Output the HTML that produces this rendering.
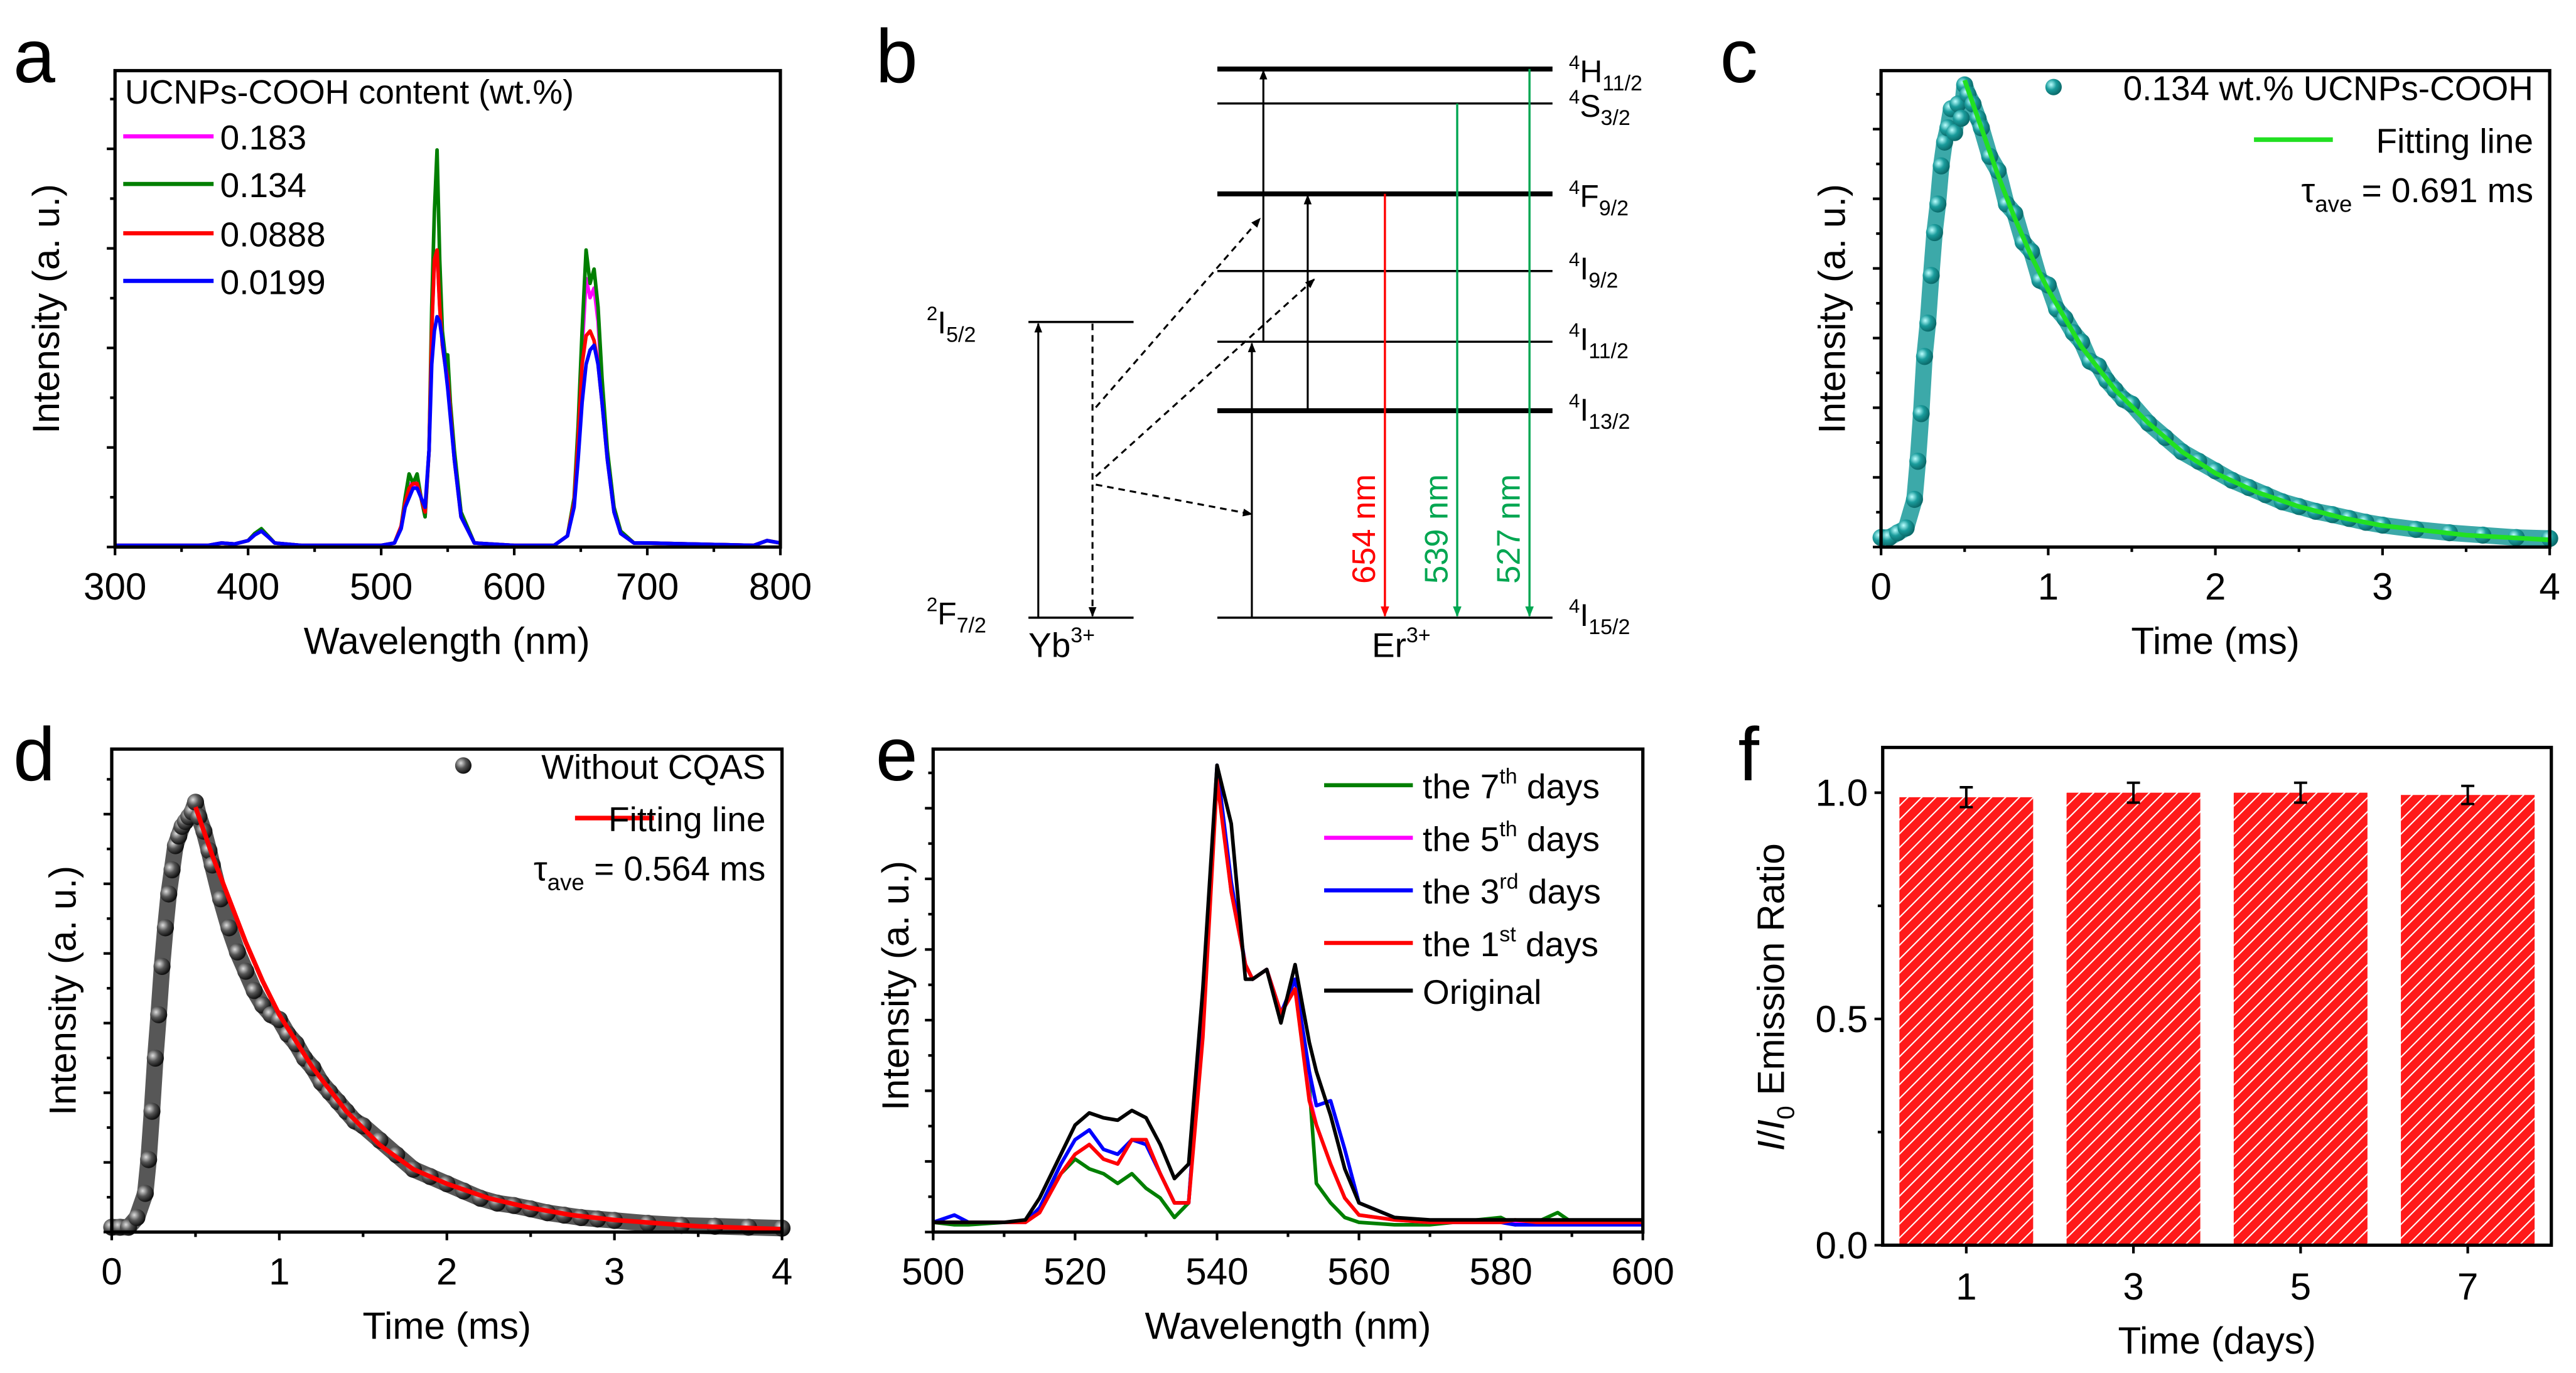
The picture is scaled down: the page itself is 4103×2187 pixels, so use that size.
<!DOCTYPE html>
<html><head><meta charset="utf-8"><style>
html,body{margin:0;padding:0;background:#fff;}
svg{display:block;font-family:"Liberation Sans",Arial,sans-serif;}
</style></head><body>
<svg id="fig" xmlns="http://www.w3.org/2000/svg" width="4103" height="2187" viewBox="0 0 1568 835.8">
<defs>
<pattern id="hatch" patternUnits="userSpaceOnUse" width="6" height="6" patternTransform="rotate(45)">
<rect width="6" height="6" fill="#ff1a1a"/><line x1="0" y1="0" x2="0" y2="6" stroke="#fff" stroke-width="1.6"/>
</pattern>
<marker id="ah" viewBox="0 0 10 10" refX="9" refY="5" markerWidth="5" markerHeight="5" orient="auto"><path d="M0,1 L10,5 L0,9 z" fill="#000"/></marker>
<marker id="ahr" viewBox="0 0 10 10" refX="9" refY="5" markerWidth="5" markerHeight="5" orient="auto"><path d="M0,1 L10,5 L0,9 z" fill="#f00"/></marker>
<marker id="ahg" viewBox="0 0 10 10" refX="9" refY="5" markerWidth="5" markerHeight="5" orient="auto"><path d="M0,1 L10,5 L0,9 z" fill="#00a651"/></marker>
<radialGradient id="ballT" cx="35%" cy="35%" r="65%"><stop offset="0" stop-color="#bff"/><stop offset="0.5" stop-color="#1a9c9c"/><stop offset="1" stop-color="#0b6b6b"/></radialGradient>
<radialGradient id="ballK" cx="35%" cy="35%" r="65%"><stop offset="0" stop-color="#ddd"/><stop offset="0.5" stop-color="#555"/><stop offset="1" stop-color="#111"/></radialGradient>
</defs>

<g stroke="#000" fill="none">
<text x="533" y="50" font-size="46" fill="#000" stroke="none">b</text>
<line x1="741" y1="42" x2="945" y2="42" stroke-width="3"/>
<line x1="741" y1="63" x2="945" y2="63" stroke-width="1.3"/>
<line x1="741" y1="118" x2="945" y2="118" stroke-width="3"/>
<line x1="741" y1="165" x2="945" y2="165" stroke-width="1.3"/>
<line x1="741" y1="208" x2="945" y2="208" stroke-width="1.3"/>
<line x1="741" y1="250" x2="945" y2="250" stroke-width="3"/>
<line x1="741" y1="376" x2="945" y2="376" stroke-width="1.3"/>
<line x1="626" y1="196" x2="690" y2="196" stroke-width="1.3"/>
<line x1="626" y1="376" x2="690" y2="376" stroke-width="1.3"/>
<line x1="632" y1="376" x2="632" y2="197" stroke-width="1.2" marker-end="url(#ah)"/>
<line x1="665" y1="197" x2="665" y2="375" stroke-width="1.2" stroke-dasharray="4,3" marker-end="url(#ah)"/>
<line x1="667" y1="248" x2="767" y2="133" stroke-width="1.2" stroke-dasharray="4,3" marker-end="url(#ah)"/>
<line x1="667" y1="290" x2="800" y2="170" stroke-width="1.2" stroke-dasharray="4,3" marker-end="url(#ah)"/>
<line x1="667" y1="295" x2="762" y2="313" stroke-width="1.2" stroke-dasharray="4,3" marker-end="url(#ah)"/>
<line x1="762" y1="376" x2="762" y2="209" stroke-width="1.2" marker-end="url(#ah)"/>
<line x1="769" y1="208" x2="769" y2="43" stroke-width="1.2" marker-end="url(#ah)"/>
<line x1="796" y1="250" x2="796" y2="119" stroke-width="1.2" marker-end="url(#ah)"/>
<line x1="843" y1="118" x2="843" y2="375" stroke="#f00" stroke-width="1.3" marker-end="url(#ahr)"/>
<line x1="887" y1="63" x2="887" y2="375" stroke="#00a651" stroke-width="1.3" marker-end="url(#ahg)"/>
<line x1="931" y1="42" x2="931" y2="375" stroke="#00a651" stroke-width="1.3" marker-end="url(#ahg)"/>
<g stroke="none" font-size="20">
<text transform="translate(837,322) rotate(-90)" text-anchor="middle" fill="#f00">654 nm</text>
<text transform="translate(881,322) rotate(-90)" text-anchor="middle" fill="#00a651">539 nm</text>
<text transform="translate(925,322) rotate(-90)" text-anchor="middle" fill="#00a651">527 nm</text>
<g fill="#000" font-size="19">
<text x="955" y="50"><tspan font-size="12" dy="-8">4</tspan><tspan dy="8">H</tspan><tspan font-size="13" dy="5">11/2</tspan></text>
<text x="955" y="71"><tspan font-size="12" dy="-8">4</tspan><tspan dy="8">S</tspan><tspan font-size="13" dy="5">3/2</tspan></text>
<text x="955" y="126"><tspan font-size="12" dy="-8">4</tspan><tspan dy="8">F</tspan><tspan font-size="13" dy="5">9/2</tspan></text>
<text x="955" y="170"><tspan font-size="12" dy="-8">4</tspan><tspan dy="8">I</tspan><tspan font-size="13" dy="5">9/2</tspan></text>
<text x="955" y="213"><tspan font-size="12" dy="-8">4</tspan><tspan dy="8">I</tspan><tspan font-size="13" dy="5">11/2</tspan></text>
<text x="955" y="256"><tspan font-size="12" dy="-8">4</tspan><tspan dy="8">I</tspan><tspan font-size="13" dy="5">13/2</tspan></text>
<text x="955" y="381"><tspan font-size="12" dy="-8">4</tspan><tspan dy="8">I</tspan><tspan font-size="13" dy="5">15/2</tspan></text>
<text x="564" y="203"><tspan font-size="12" dy="-8">2</tspan><tspan dy="8">I</tspan><tspan font-size="13" dy="5">5/2</tspan></text>
<text x="564" y="380"><tspan font-size="12" dy="-8">2</tspan><tspan dy="8">F</tspan><tspan font-size="13" dy="5">7/2</tspan></text>
<text x="626" y="400" font-size="21">Yb<tspan font-size="13" dy="-9">3+</tspan></text>
<text x="835" y="400" font-size="21">Er<tspan font-size="13" dy="-9">3+</tspan></text>
</g></g></g>
</svg>
<script>
// ---------- DATA ----------
const aWavelengths=[300,370,380,390,400,405,410,415,420,440,500,510,515,518,521,524,527,530,533,536,538,540,542,544,546,548,550,552,555,560,570,600,630,640,645,648,651,654,657,660,663,666,670,675,680,690,700,780,790,800];
const aSeriesNames=["0.183","0.134","0.0888","0.0199"];
const aVal0183=[0,0,0.005,0.003,0.01,0.025,0.033,0.02,0.005,0,0,0.005,0.04,0.09,0.13,0.12,0.14,0.1,0.06,0.2,0.45,0.6,0.62,0.5,0.42,0.38,0.36,0.28,0.18,0.07,0.005,0,0,0.02,0.09,0.23,0.41,0.56,0.52,0.54,0.47,0.33,0.19,0.08,0.03,0.005,0.005,0,0.01,0.005];
const aVal0134=[0,0,0.005,0.003,0.01,0.025,0.035,0.02,0.005,0,0,0.005,0.04,0.1,0.15,0.13,0.15,0.1,0.06,0.2,0.5,0.7,0.83,0.6,0.45,0.4,0.4,0.3,0.2,0.07,0.005,0,0,0.02,0.1,0.25,0.45,0.62,0.55,0.58,0.5,0.35,0.2,0.08,0.03,0.005,0.005,0,0.01,0.005];
const aVal0888=[0,0,0.005,0.003,0.01,0.022,0.03,0.018,0.005,0,0,0.005,0.04,0.09,0.12,0.13,0.13,0.1,0.07,0.2,0.45,0.6,0.62,0.5,0.42,0.38,0.35,0.28,0.18,0.06,0.005,0,0,0.02,0.09,0.22,0.38,0.44,0.45,0.43,0.38,0.3,0.18,0.07,0.025,0.005,0.005,0,0.01,0.005];
const aVal0199=[0,0,0.005,0.003,0.01,0.022,0.03,0.018,0.005,0,0,0.005,0.035,0.08,0.1,0.12,0.12,0.1,0.08,0.2,0.38,0.45,0.48,0.47,0.43,0.38,0.33,0.27,0.18,0.06,0.005,0,0,0.02,0.08,0.18,0.3,0.38,0.41,0.42,0.38,0.3,0.18,0.07,0.025,0.005,0.005,0,0.01,0.005];
const aXTicks=[300,400,500,600,700,800];

const cTimes=[0,0.05,0.1,0.15,0.2,0.22,0.24,0.26,0.28,0.3,0.32,0.34,0.36,0.38,0.4,0.42,0.44,0.46,0.48,0.5,0.52,0.55,0.58,0.6,0.65,0.7,0.75,0.8,0.85,0.9,0.95,1.0,1.05,1.1,1.15,1.2,1.25,1.3,1.35,1.4,1.45,1.5,1.6,1.7,1.8,1.9,2.0,2.1,2.2,2.3,2.4,2.5,2.6,2.7,2.8,2.9,3.0,3.2,3.4,3.6,3.8,4.0];
const cDecay=[0.02,0.02,0.03,0.04,0.1,0.18,0.28,0.4,0.47,0.57,0.66,0.72,0.8,0.85,0.88,0.92,0.87,0.93,0.9,0.97,0.95,0.93,0.9,0.88,0.82,0.79,0.72,0.7,0.64,0.62,0.56,0.55,0.5,0.48,0.45,0.43,0.39,0.38,0.35,0.33,0.31,0.3,0.26,0.23,0.2,0.18,0.16,0.14,0.125,0.11,0.095,0.085,0.075,0.068,0.06,0.052,0.046,0.037,0.03,0.025,0.02,0.018];
const dDecay=[0.01,0.01,0.01,0.03,0.08,0.15,0.25,0.36,0.45,0.55,0.63,0.7,0.75,0.8,0.82,0.84,0.85,0.86,0.87,0.89,0.86,0.83,0.79,0.76,0.69,0.63,0.58,0.54,0.5,0.47,0.45,0.44,0.41,0.39,0.36,0.34,0.31,0.29,0.27,0.25,0.23,0.22,0.19,0.16,0.13,0.115,0.1,0.085,0.07,0.06,0.055,0.048,0.04,0.035,0.03,0.027,0.024,0.018,0.014,0.012,0.01,0.008];
const fitTimes=[0.5,0.6,0.7,0.8,0.9,1.0,1.2,1.4,1.6,1.8,2.0,2.25,2.5,2.75,3.0,3.5,4.0];
const cFit=[0.98,0.88,0.78,0.69,0.61,0.54,0.42,0.33,0.26,0.2,0.155,0.115,0.085,0.062,0.045,0.025,0.015];
const dFit=[0.88,0.78,0.69,0.6,0.52,0.45,0.34,0.25,0.18,0.13,0.1,0.07,0.05,0.035,0.025,0.012,0.006];
const timeTicks=[0,1,2,3,4];

const eWavelengths=[500,503,505,510,513,515,518,520,522,524,526,528,530,532,534,536,538,540,542,544,545,547,549,551,553,554,556,558,560,565,570,580,582,585,588,590,600];
const eOriginal=[.02,.02,.02,.02,.025,.07,.16,.22,.245,.235,.23,.25,.235,.18,.11,.14,.5,.96,.84,.52,.52,.54,.43,.55,.39,.33,.24,.13,.06,.03,.025,.025,.025,.025,.025,.025,.025];
const eDay1=[.02,.02,.02,.02,.02,.04,.12,.16,.18,.15,.14,.19,.19,.12,.06,.06,.4,.93,.7,.55,.52,.54,.45,.5,.27,.22,.14,.07,.035,.025,.02,.02,.025,.02,.02,.02,.02];
const eDay3=[.02,.035,.02,.02,.02,.05,.14,.19,.21,.17,.16,.19,.18,.12,.06,.06,.45,.96,.72,.55,.52,.54,.45,.52,.33,.26,.27,.17,.06,.03,.02,.02,.015,.015,.015,.015,.015];
const eDay5=[.02,.02,.02,.02,.02,.04,.12,.16,.18,.15,.14,.19,.19,.12,.06,.06,.42,.94,.7,.55,.52,.54,.45,.5,.28,.22,.14,.07,.035,.025,.02,.02,.02,.02,.02,.02,.02];
const eDay7=[.02,.015,.015,.02,.02,.05,.12,.15,.13,.12,.1,.12,.09,.07,.03,.06,.45,.95,.7,.55,.52,.54,.45,.5,.3,.1,.06,.03,.02,.015,.015,.03,.015,.02,.04,.02,.02];
const eXTicks=[500,520,540,560,580,600];

const fDays=["1","3","5","7"];
const fRatio=[0.99,1.0,1.0,0.995];
const fErr=[0.022,0.022,0.022,0.02];
const fYTicks=[0.0,0.5,1.0];

// ---------- HELPERS ----------
const NS="http://www.w3.org/2000/svg";
const svg=document.getElementById('fig');
function mk(tag,attrs,parent){const e=document.createElementNS(NS,tag);for(const k in attrs)e.setAttribute(k,attrs[k]);(parent||svg).appendChild(e);return e;}
function txt(s,x,y,size,anchor,parent,extra){const t=mk('text',Object.assign({x:x,y:y,'font-size':size,'text-anchor':anchor||'start',fill:'#000'},extra||{}),parent);t.textContent=s;return t;}
function lin(d0,d1,r0,r1){return v=>r0+(v-d0)/(d1-d0)*(r1-r0);}
function frame(g,x0,y0,x1,y1){const r=mk('rect',{x:x0,y:y0,width:x1-x0,height:y1-y0,fill:'none',stroke:'#000','stroke-width':2},g);return r;}
function path(xs,ys,X,Y){return xs.map((v,i)=>(i?'L':'M')+X(v).toFixed(2)+','+Y(ys[i]).toFixed(2)).join(' ');}

// ---------- PANEL A ----------
(function(){
const g=mk('g',{});


const x0=70,x1=475,y0=43,y1=333;
const X=lin(300,800,x0,x1), Y=v=>332-v*290;
const lab=txt('a',8,50,46,'start',g);


const colors=['#ff00ff','#007f00','#ff0000','#0000ff'];
const vals=[aVal0183,aVal0134,aVal0888,aVal0199];
const order=[0,1,2,3];
order.forEach(i=>{const p=mk('path',{d:path(aWavelengths,vals[i],X,Y),fill:'none',stroke:colors[i],'stroke-width':2.2,'stroke-linejoin':'round'},g);

});
const fr=frame(g,x0,y0,x1,y1);


for(let v=300;v<=800;v+=50){const major=v%100===0;const t=mk('line',{x1:X(v),x2:X(v),y1:y1,y2:y1+(major?5:3),stroke:'#000','stroke-width':1.6},g);

}
aXTicks.forEach(v=>{const t=txt(String(v),X(v),365,23,'middle',g);

});
for(let k=0;k<=9;k++){const yy=y1-k*30.3;const t=mk('line',{x1:x0-(k%2?3:5),x2:x0,y1:yy,y2:yy,stroke:'#000','stroke-width':1.6},g);

}
const xt=txt('Wavelength (nm)',272,398,23,'middle',g);


const yt=txt('Intensity (a. u.)',0,0,23,'middle',g,{transform:'translate(36,188) rotate(-90)'});


const lt=txt('UCNPs-COOH content (wt.%)',76,63,20.5,'start',g);


const ly=[83,112,142,171];
[0,1,2,3].forEach(i=>{const l=mk('line',{x1:75,x2:130,y1:ly[i],y2:ly[i],stroke:colors[i],'stroke-width':2.5},g);


const t=txt(aSeriesNames[i],134,ly[i]+8,21,'start',g);

});
})();

// ---------- DECAY PANELS (c, d) ----------
function decayPanel(id,letter,lx,ly,x0,y0,x1,y1,data,fit,ballId,lineColor,fitColor,labels){
const g=mk('g',{});


const X=lin(0,4,x0,x1), Y=v=>y1-v*(y1-y0);
const lab=txt(letter,lx,ly,46,'start',g);


const band=mk('path',{d:path(cTimes,data,X,Y),fill:'none',stroke:lineColor,'stroke-width':10,'stroke-linejoin':'round',opacity:0.85},g);


cTimes.forEach((t,i)=>{const c=mk('circle',{cx:X(t),cy:Y(data[i]),r:5.2,fill:'url(#'+ballId+')'},g);

});
const fp=mk('path',{d:path(fitTimes,fit,X,Y),fill:'none',stroke:fitColor,'stroke-width':2.8},g);


const fr=frame(g,x0,y0,x1,y1);


for(let v=0;v<=4.001;v+=0.5){const major=Math.abs(v-Math.round(v))<0.01;const t=mk('line',{x1:X(v),x2:X(v),y1:y1,y2:y1+(major?5:3),stroke:'#000','stroke-width':1.6},g);

}
timeTicks.forEach(v=>{const t=txt(String(v),X(v),y1+32,23,'middle',g);

});
for(let k=0;k<=13;k++){const yy=y1-k*21.2;if(yy<y0+5)break;const t=mk('line',{x1:x0-(k%2?3:5),x2:x0,y1:yy,y2:yy,stroke:'#000','stroke-width':1.6},g);

}
const xt=txt('Time (ms)',(x0+x1)/2,y1+65,23,'middle',g);


const yt=txt('Intensity (a. u.)',0,0,23,'middle',g,{transform:'translate('+(x0-22)+','+((y0+y1)/2)+') rotate(-90)'});


const mkx=labels.mx, tx=x1-10;
const m=mk('circle',{cx:mkx,cy:y0+10,r:5,fill:'url(#'+ballId+')'},g);


const t1=txt(labels.name,tx,y0+18,21,'end',g);


const fl=mk('line',{x1:labels.fx0,x2:labels.fx1,y1:y0+42,y2:y0+42,stroke:fitColor,'stroke-width':2.8},g);


const t2=txt('Fitting line',tx,y0+50,21,'end',g);


const t3=mk('text',{x:tx,y:y0+80,'font-size':21,'text-anchor':'end',fill:'#000'},g);
t3.innerHTML='τ<tspan font-size="14" dy="6">ave</tspan><tspan dy="-6"> = '+labels.tau+' ms</tspan>';


}
decayPanel('c','c',1047,50,1145,43,1552,333,cDecay,cFit,'ballT','#1a9a9a','#22e022',{mx:1250,name:'0.134 wt.% UCNPs-COOH',fx0:1372,fx1:1420,tau:'0.691'});
decayPanel('d','d',8,475,68,456,476,750,dDecay,dFit,'ballK','#3a3a3a','#ff0000',{mx:282,name:'Without CQAS',fx0:350,fx1:398,tau:'0.564'});

// ---------- PANEL E ----------
(function(){
const g=mk('g',{});


const x0=568,x1=1000,y0=456,y1=750;
const X=lin(500,600,x0,x1), Y=v=>y1-v*296;
const lab=txt('e',533,475,46,'start',g);


const names=['the 7th days','the 5th days','the 3rd days','the 1st days','Original'];
const sups=[['7','th'],['5','th'],['3','rd'],['1','st']];
const cols=['#007f00','#ff00ff','#0000ff','#ff0000','#000000'];
const vals=[eDay7,eDay5,eDay3,eDay1,eOriginal];
[0,1,2,3,4].forEach(i=>{const p=mk('path',{d:path(eWavelengths,vals[i],X,Y),fill:'none',stroke:cols[i],'stroke-width':2.2,'stroke-linejoin':'round'},g);

});
const fr=frame(g,x0,y0,x1,y1);


for(let v=500;v<=600;v+=10){const major=v%20===0;const t=mk('line',{x1:X(v),x2:X(v),y1:y1,y2:y1+(major?5:3),stroke:'#000','stroke-width':1.6},g);

}
eXTicks.forEach(v=>{const t=txt(String(v),X(v),y1+32,23,'middle',g);

});
for(let k=0;k<=13;k++){const yy=y1-k*21.5;if(yy<y0+5)break;const t=mk('line',{x1:x0-(k%2?3:5),x2:x0,y1:yy,y2:yy,stroke:'#000','stroke-width':1.6},g);

}
const xt=txt('Wavelength (nm)',784,y1+65,23,'middle',g);


const yt=txt('Intensity (a. u.)',0,0,23,'middle',g,{transform:'translate(553,600) rotate(-90)'});


const ly=[478,510,542,574,603];
[0,1,2,3,4].forEach(i=>{const l=mk('line',{x1:806,x2:860,y1:ly[i],y2:ly[i],stroke:cols[i],'stroke-width':2.5},g);


const t=mk('text',{x:866,y:ly[i]+8,'font-size':21,fill:'#000'},g);
if(i<4){t.innerHTML='the '+sups[i][0]+'<tspan font-size="13" dy="-9">'+sups[i][1]+'</tspan><tspan dy="9"> days</tspan>';}else{t.textContent='Original';}

});
})();

// ---------- PANEL F ----------
(function(){
const g=mk('g',{});


const x0=1146,x1=1553,y0=455,y1=758;
const Y=lin(0,1.1,y1,y0);
const slot=(x1-x0)/fDays.length;
const XC=i=>x0+slot*(i+0.5);
const lab=txt('f',1058,475,46,'start',g);


fDays.forEach((d,i)=>{const bw=slot*0.8;const b=mk('rect',{x:XC(i)-bw/2,y:Y(fRatio[i]),width:bw,height:Y(0)-Y(fRatio[i]),fill:'url(#hatch)'},g);


const e=mk('path',{d:'M'+(XC(i)-4)+','+Y(fRatio[i]+fErr[i])+'h8M'+XC(i)+','+Y(fRatio[i]+fErr[i])+'V'+Y(fRatio[i]-fErr[i])+'M'+(XC(i)-4)+','+Y(fRatio[i]-fErr[i])+'h8',stroke:'#000','stroke-width':1.5,fill:'none'},g);


const tk=mk('line',{x1:XC(i),x2:XC(i),y1:y1,y2:y1+5,stroke:'#000','stroke-width':1.6},g);


const t=txt(d,XC(i),y1+33,23,'middle',g);

});
const fr=frame(g,x0,y0,x1,y1);


for(let v=0;v<=1.0001;v+=0.25){const major=Math.abs(v*2-Math.round(v*2))<0.01;const t=mk('line',{x1:x0-(major?5:3),x2:x0,y1:Y(v),y2:Y(v),stroke:'#000','stroke-width':1.6},g);

}
fYTicks.forEach(v=>{const t=txt(v.toFixed(1),x0-9,Y(v)+8,23,'end',g);

});
const xt=txt('Time (days)',(x0+x1)/2,y1+66,23,'middle',g);


const yt=mk('text',{transform:'translate(1086,607) rotate(-90)','font-size':23,'text-anchor':'middle',fill:'#000'},g);
yt.innerHTML='<tspan font-style="italic">I</tspan>/<tspan font-style="italic">I</tspan><tspan font-size="15" dy="6">0</tspan><tspan dy="-6"> Emission Ratio</tspan>';


})();
</script>
</body></html>
